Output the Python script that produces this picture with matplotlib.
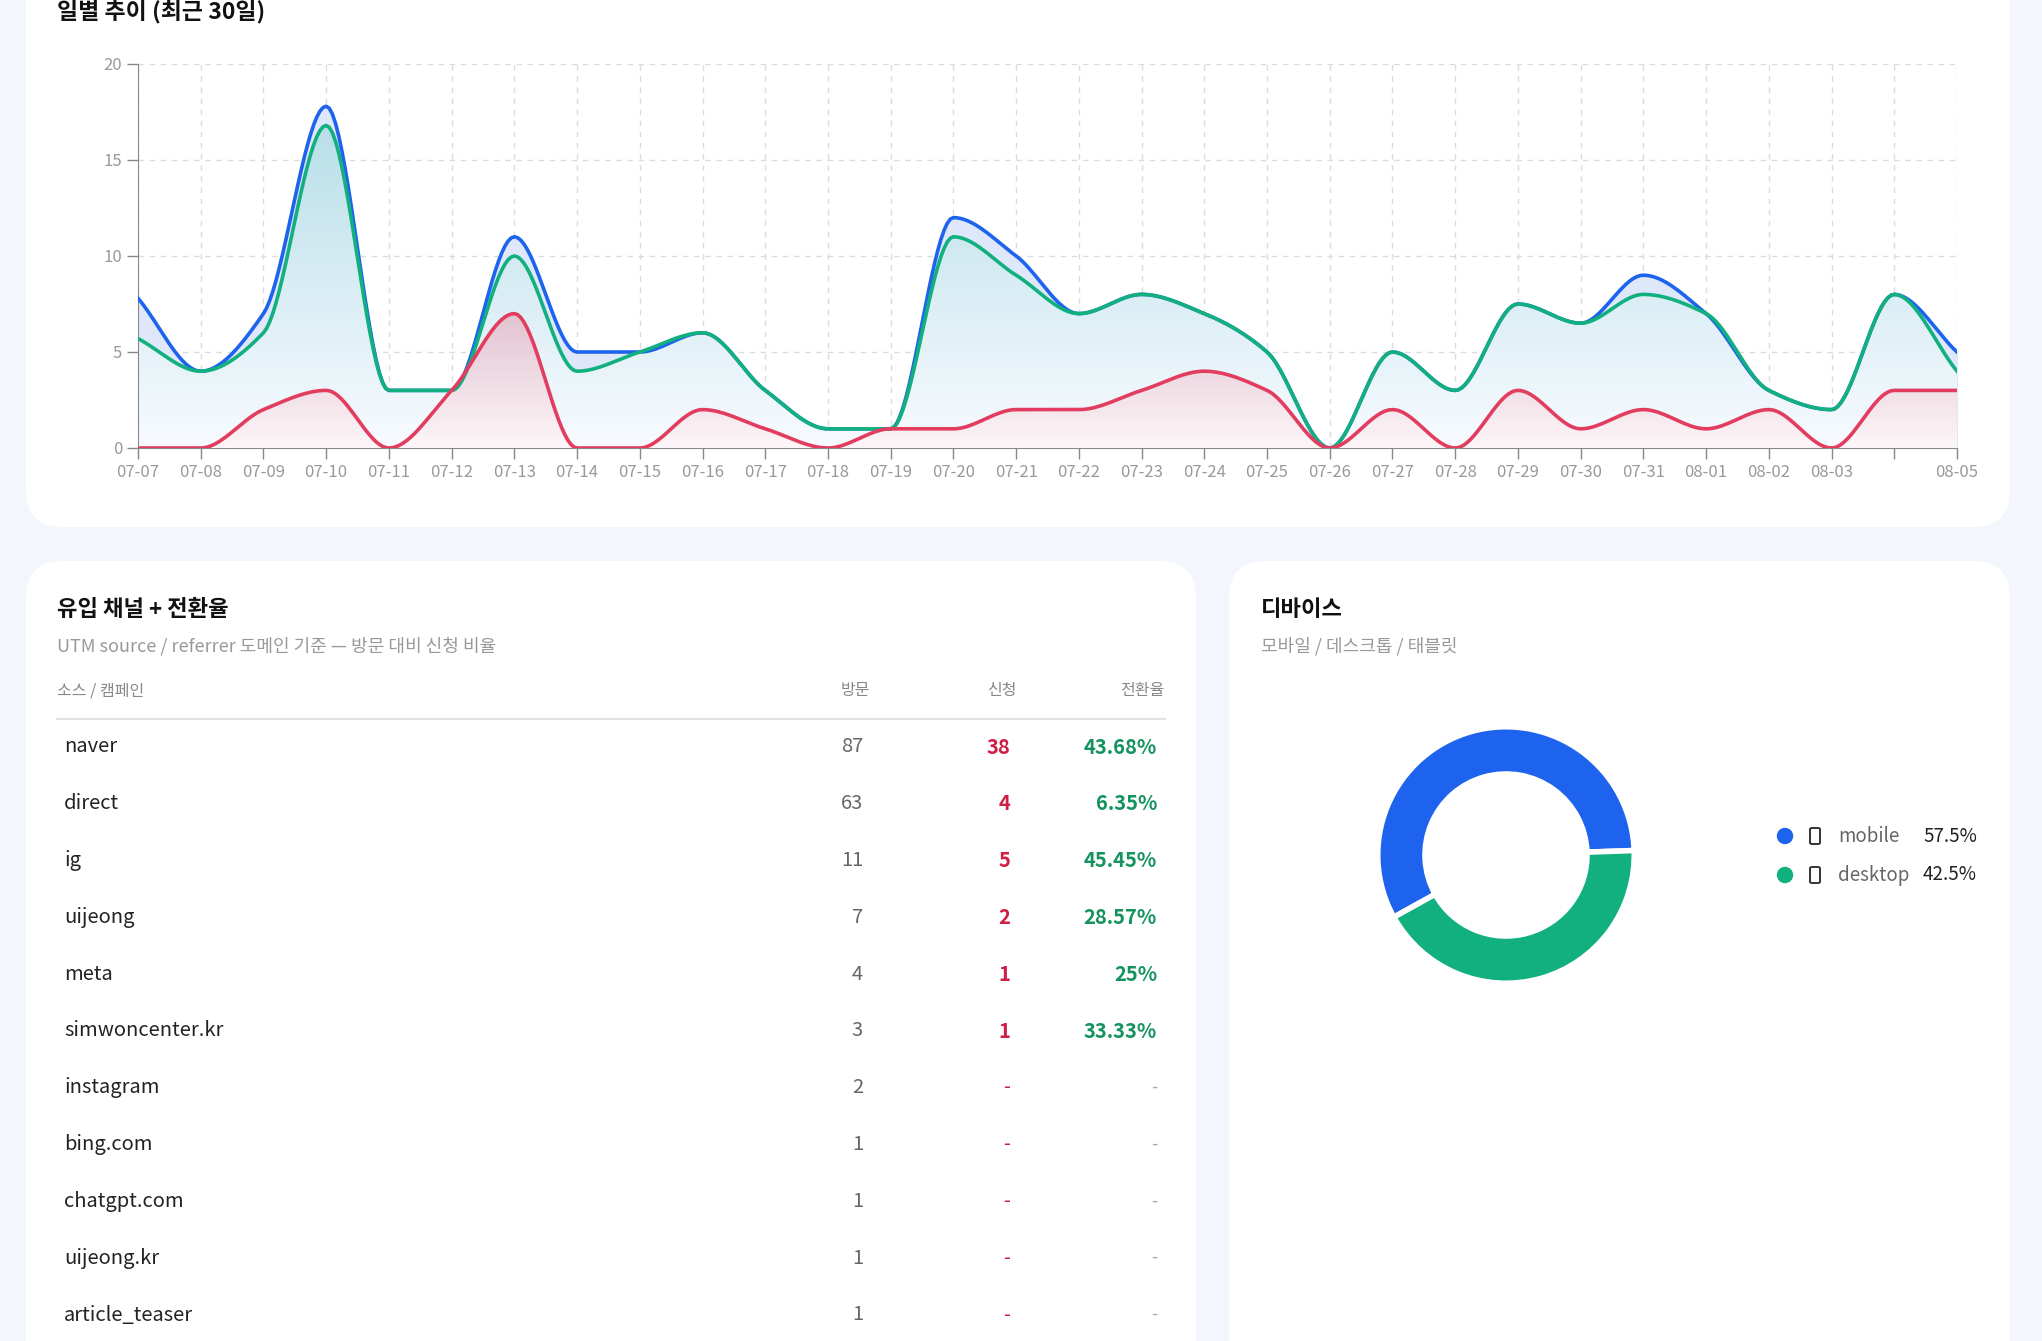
import numpy as np
import matplotlib.pyplot as plt
from matplotlib.patches import FancyBboxPatch, Ellipse
from matplotlib.colors import LinearSegmentedColormap

plt.rcParams['font.family'] = ['Noto Sans CJK KR', 'DejaVu Sans']

W, H = 2042, 1341

dates = ['07-07', '07-08', '07-09', '07-10', '07-11', '07-12', '07-13', '07-14', '07-15', '07-16',
         '07-17', '07-18', '07-19', '07-20', '07-21', '07-22', '07-23', '07-24', '07-25', '07-26',
         '07-27', '07-28', '07-29', '07-30', '07-31', '08-01', '08-02', '08-03', '08-04', '08-05']
visits = [7.8, 4, 7, 17.8, 3, 3, 11, 5, 5, 6, 3, 1, 1, 12, 10, 7, 8, 7, 5, 0,
          5, 3, 7.5, 6.5, 9, 7, 3, 2, 8, 5]
uniques = [5.7, 4, 6, 16.8, 3, 3, 10, 4, 5, 6, 3, 1, 1, 11, 9, 7, 8, 7, 5, 0,
           5, 3, 7.5, 6.5, 8, 7, 3, 2, 8, 4]
applies = [0, 0, 2, 3, 0, 3, 7, 0, 0, 2, 1, 0, 1, 1, 2, 2, 3, 4, 3, 0,
           2, 0, 3, 1, 2, 1, 2, 0, 3, 3]

sources = ['naver', 'direct', 'ig', 'uijeong', 'meta', 'simwoncenter.kr', 'instagram',
           'bing.com', 'chatgpt.com', 'uijeong.kr', 'article_teaser']
src_visits = [87, 63, 11, 7, 4, 3, 2, 1, 1, 1, 1]
src_apply = [38, 4, 5, 2, 1, 1, None, None, None, None, None]
src_rate = ['43.68%', '6.35%', '45.45%', '28.57%', '25%', '33.33%', '-', '-', '-', '-', '-']

devices = ['mobile', 'desktop']
device_share = [57.5, 42.5]

BLUE = '#1d63ed'
GREEN = '#12b07f'
RED = '#e23d5f'


def monotone(y, n=20):
    # Fritsch-Carlson monotone cubic, like chart.js 'monotone'
    y = np.asarray(y, float)
    x = np.arange(len(y))
    d = np.diff(y)
    m = np.zeros(len(y))
    m[0], m[-1] = d[0], d[-1]
    for i in range(1, len(y) - 1):
        if d[i - 1] * d[i] <= 0:
            m[i] = 0
        else:
            m[i] = 2 / (1 / d[i - 1] + 1 / d[i])
    xs, ys = [], []
    for i in range(len(y) - 1):
        t = np.linspace(0, 1, n, endpoint=False)
        h00 = 2 * t**3 - 3 * t**2 + 1
        h10 = t**3 - 2 * t**2 + t
        h01 = -2 * t**3 + 3 * t**2
        h11 = t**3 - t**2
        xs.append(x[i] + t)
        ys.append(h00 * y[i] + h10 * m[i] + h01 * y[i + 1] + h11 * m[i + 1])
    xs.append([x[-1]]); ys.append([y[-1]])
    return np.concatenate(xs), np.concatenate(ys)


def rect(x, y, w, h):
    return [x / W, 1 - (y + h) / H, w / W, h / H]


def ftext(x, y, s, **kw):
    fig.text(x / W, 1 - y / H, s, **kw)


def card(x, y, w, h):
    p = FancyBboxPatch((x / W, 1 - (y + h) / H), w / W, h / H,
                       boxstyle='round,pad=0,rounding_size=0.018',
                       transform=fig.transFigure, facecolor='white', edgecolor='none',
                       mutation_aspect=W / H, zorder=-5)
    fig.add_artist(p)


fig = plt.figure(figsize=(W / 100, H / 100), dpi=100)
fig.patch.set_facecolor('#f3f6fc')

card(26, -60, 1984, 587)
card(26, 561, 1170, 840)
card(1229, 561, 781, 840)

# ---- daily trend ----
ftext(57, 11, '일별 추이 (최근 30일)', fontsize=16.5, fontweight='bold', color='#111', va='center')
ax = fig.add_axes(rect(138, 64, 1819, 384))
x = np.arange(len(dates))
bx, by = monotone(visits)
gx, gy = monotone(uniques)
rx, ry = monotone(applies)


def grad_fill(xs, ys, top, bottom, z):
    poly = ax.fill_between(xs, ys, 0, color='none', zorder=z)
    cm = LinearSegmentedColormap.from_list('g', [bottom, top])
    img = ax.imshow(np.linspace(0, 1, 256).reshape(-1, 1), cmap=cm, aspect='auto',
                    extent=[0, len(dates) - 1, 0, max(ys)], origin='lower', zorder=z)
    img.set_clip_path(poly.get_paths()[0], transform=ax.transData)


ax.fill_between(bx, by, 0, color='#dfe8fb', zorder=1)
grad_fill(gx, gy, '#b9dfe9', '#f8fbff', 2)
grad_fill(rx, ry, '#e2c3d1', '#fdf6f8', 3)
ax.plot(bx, by, color=BLUE, lw=2.6, zorder=5)
ax.plot(gx, gy, color=GREEN, lw=2.6, zorder=6)
ax.plot(rx, ry, color=RED, lw=2.6, zorder=7)
ax.set_xlim(0, len(dates) - 1)
ax.set_ylim(0, 20)
ax.set_yticks([0, 5, 10, 15, 20])
ax.set_xticks(x)
ax.set_xticklabels([d if d != '08-04' else '' for d in dates])
ax.grid(True, color='#dcdcdc', ls=(0, (4, 4)), lw=1)
ax.set_axisbelow(True)
for s in ['top', 'right']:
    ax.spines[s].set_visible(False)
for s in ['left', 'bottom']:
    ax.spines[s].set_color('#888')
ax.tick_params(colors='#888', labelcolor='#999', labelsize=12, length=8, width=1)
ax.set_facecolor('none')

# ---- channel table ----
ftext(57, 609, '유입 채널 + 전환율', fontsize=16, fontweight='bold', color='#111', va='center')
ftext(57, 646, 'UTM source / referrer 도메인 기준 — 방문 대비 신청 비율', fontsize=13,
      color='#999', va='center')
ftext(57, 691, '소스 / 캠페인', fontsize=11.5, color='#888', va='center')
ftext(870, 691, '방문', fontsize=11.5, color='#888', va='center', ha='right')
ftext(1017, 691, '신청', fontsize=11.5, color='#888', va='center', ha='right')
ftext(1164, 691, '전환율', fontsize=11.5, color='#888', va='center', ha='right')
fig.add_artist(plt.Line2D([57 / W, 1165 / W], [1 - 719 / H] * 2, color='#e2e2e2', lw=1.5))
for i, name in enumerate(sources):
    y = 747 + i * 56.8
    ftext(64, y, name, fontsize=14.5, color='#222', va='center')
    ftext(863, y, str(src_visits[i]), fontsize=14.5, color='#666', va='center', ha='right')
    if src_apply[i] is None:
        ftext(1010, y, '-', fontsize=14.5, color='#d01f45', va='center', ha='right')
        ftext(1157, y, '-', fontsize=13, color='#aaa', va='center', ha='right')
    else:
        ftext(1010, y, str(src_apply[i]), fontsize=14.5, color='#d01f45', va='center',
              ha='right', fontweight='bold')
        ftext(1157, y, src_rate[i], fontsize=14.5, color='#15935f', va='center',
              ha='right', fontweight='bold')

# ---- devices ----
ftext(1261, 609, '디바이스', fontsize=16, fontweight='bold', color='#111', va='center')
ftext(1261, 646, '모바일 / 데스크톱 / 태블릿', fontsize=13, color='#999', va='center')
pax = fig.add_axes(rect(1506 - 135, 855 - 135, 270, 270))
pax.pie(device_share, colors=[BLUE, GREEN], startangle=209, counterclock=False,
        wedgeprops=dict(width=0.35, edgecolor='white', linewidth=4), radius=0.95)
pax.set_xlim(-1, 1); pax.set_ylim(-1, 1)
pax.set_aspect('equal')
for i, (dev, c) in enumerate(zip(devices, [BLUE, GREEN])):
    y = 836 + i * 39
    fig.add_artist(Ellipse((1785 / W, 1 - y / H), 15 / W, 15 / H, color=c,
                           transform=fig.transFigure))
    fig.add_artist(FancyBboxPatch((1810 / W, 1 - (y + 8) / H), 10 / W, 16 / H,
                                  boxstyle='round,pad=0,rounding_size=0.001',
                                  transform=fig.transFigure, facecolor='none',
                                  edgecolor='#333', lw=1.4))
    ftext(1838, y, dev, fontsize=13.5, color='#666', va='center')
    ftext(1977, y, f'{device_share[i]}%', fontsize=13.5, color='#222', va='center', ha='right')

fig.savefig('out.png', dpi=100, facecolor=fig.get_facecolor())
